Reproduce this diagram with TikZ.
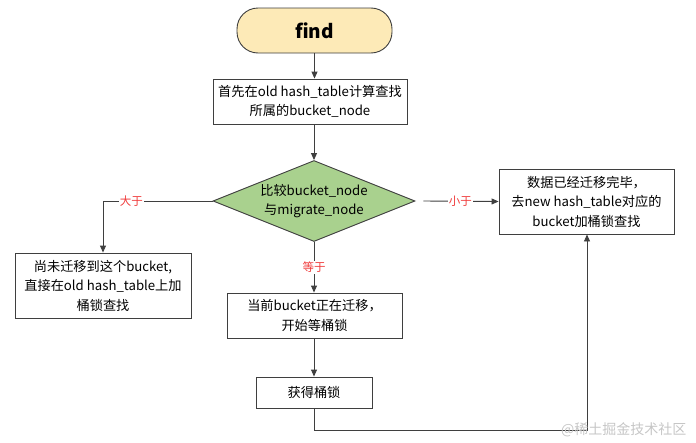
\documentclass[tikz,border=0pt]{standalone}
\usepackage{fontspec}
\setmainfont{Noto Sans CJK SC}
\usetikzlibrary{arrows.meta,positioning,shapes.geometric,calc}
\definecolor{termfill}{HTML}{FDEAB7}
\definecolor{decfill}{HTML}{A9D18E}
\definecolor{linegray}{HTML}{3F3F3F}
\definecolor{lblred}{HTML}{F03A3A}
\tikzset{
	flow chart/.style={
		x=1pt, y=-1pt,
		font=\fontsize{13.2}{19.5}\selectfont,
		>={Triangle[length=7pt,width=6pt]},
		line/.style={draw=linegray, line width=0.9pt},
		ar/.style={line, ->}},
	terminal/.style={draw=linegray, line width=0.9pt, fill=termfill,
		rounded corners=21pt, minimum width=155pt, minimum height=45pt,
		font=\fontsize{19}{22}\selectfont\bfseries},
	stepbox/.style={draw=linegray, line width=0.9pt, fill=white, align=center,
		inner sep=0pt},
	decision/.style={diamond, draw=linegray, line width=0.9pt, fill=decfill,
		align=center, inner sep=0pt, aspect=2.5,
		minimum width=202pt, minimum height=81pt},
	lbl/.style={text=lblred, fill=white, inner sep=1pt,
		font=\fontsize{11.5}{13}\selectfont}
}

\begin{document}
\begin{tikzpicture}[flow chart]
	\useasboundingbox (0,0) rectangle (696,442);
	\node[terminal] (find) at (314.5,30.5) {find};
	\node[stepbox, minimum width=194pt, minimum height=45pt] (locate) at (310,101.5)
		{首先在old hash\_table计算查找\\所属的bucket\_node};
	\node[decision] (cmp) at (314,201) {比较bucket\_node\\与migrate\_node};
	\node[stepbox, minimum width=176pt, minimum height=65pt] (oldtab) at (103,285.5)
		{尚未迁移到这个bucket,\\直接在old hash\_table上加\\桶锁查找};
	\node[stepbox, minimum width=175pt, minimum height=65pt] (newtab) at (586.5,201.5)
		{数据已经迁移完毕，\\去new hash\_table对应的\\bucket加桶锁查找};
	\node[stepbox, minimum width=175pt, minimum height=45pt] (wait) at (314.5,315.5)
		{当前bucket正在迁移，\\开始等桶锁};
	\node[stepbox, minimum width=116pt, minimum height=31pt] (got) at (314,392.5)
		{获得桶锁};
	\coordinate (turn) at (314,430);
	% connectors
	\draw[ar] (find) -- (find |- locate.north);
	\draw[ar] (locate.south -| cmp) -- (cmp.north);
	\draw[ar] (cmp.west) -| node[lbl, pos=.37] {大于} (oldtab.north);
	\draw[ar] ([xshift=8pt]cmp.east) -- node[lbl, pos=.49] {小于} (newtab.west);
	\draw[ar] (cmp.south) -- node[lbl] {等于} (wait.north -| cmp);
	\draw[ar] (wait.south -| got) -- (got.north);
	\draw[ar] (got.south) -- (turn) -| (newtab.south -| 587,0);
	\node[text=gray!45, font=\fontsize{14}{16}\selectfont, anchor=east] (mark) at (690,430)
		{@稀土掘金技术社区};
\end{tikzpicture}
\end{document}
